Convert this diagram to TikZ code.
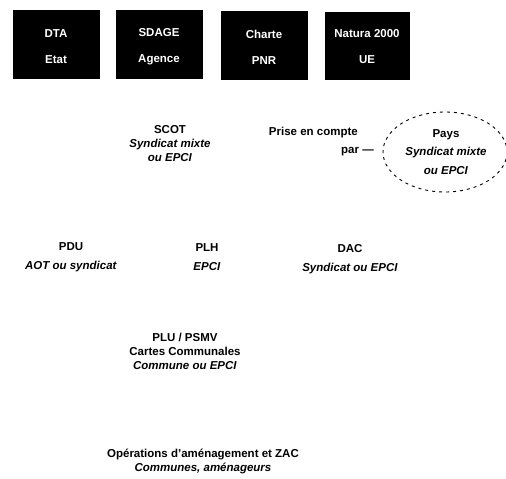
\documentclass[tikz,border=0pt]{standalone}
\usepackage{fontspec}
\setmainfont{Liberation Sans}
\begin{document}
\begin{tikzpicture}[x=1pt,y=-1pt,
  topbox/.style={fill=black,draw=black,minimum width=86pt,minimum height=68pt,text=white,align=center,font=\bfseries\fontsize{11.5}{26}\selectfont,inner sep=0pt},
  lbl/.style={align=center,font=\bfseries\fontsize{11.5}{14}\selectfont,inner sep=0pt},
  wide/.style={font=\bfseries\fontsize{11.5}{18.5}\selectfont}]
\useasboundingbox (0,0) rectangle (506,479);
\node[topbox] (dta) at (56,44.5) {};
\node[text=white,align=center,font=\bfseries\fontsize{11.5}{26}\selectfont] (dtat) at (56,47) {DTA\\Etat};
\node[topbox] (sdage) at (159,44.5) {};
\node[text=white,align=center,font=\bfseries\fontsize{11.5}{26}\selectfont] (sdaget) at (159,47) {SDAGE\\Agence};
\node[topbox] (charte) at (264,45.5) {};
\node[text=white,align=center,font=\bfseries\fontsize{11.5}{26}\selectfont] (chartet) at (264,47) {Charte\\PNR};
\node[topbox,minimum width=84pt,minimum height=67pt] (natura) at (367,45.5) {};
\node[text=white,align=center,font=\bfseries\fontsize{11.5}{26}\selectfont] (naturat) at (367,47) {Natura 2000\\UE};
\node[lbl] (scot) at (170,144) {SCOT\\\textit{Syndicat mixte}\\\textit{ou EPCI}};
\node[lbl,anchor=east] (prise) at (358,133) {Prise en compte};
\node[lbl,anchor=east] (par) at (374,152) {par ---};
\draw[line width=0.9pt,dash pattern=on 3pt off 4pt] (445,152) ellipse [x radius=62, y radius=40];
\node[lbl,wide] (pays) at (446,152) {Pays\\\textit{Syndicat mixte}\\\textit{ou EPCI}};
\node[lbl,wide] (pdu) at (71,257) {PDU\\\textit{AOT ou syndicat}};
\node[lbl,wide] (plh) at (207,257) {PLH\\\textit{EPCI}};
\node[lbl,wide] (dac) at (350,259) {DAC\\\textit{Syndicat ou EPCI}};
\node[lbl] (plu) at (185,351) {PLU / PSMV\\Cartes Communales\\\textit{Commune ou EPCI}};
\node[lbl] (ope) at (203,461) {Opérations d'aménagement et ZAC\\\textit{Communes, aménageurs}};
\end{tikzpicture}
\end{document}
